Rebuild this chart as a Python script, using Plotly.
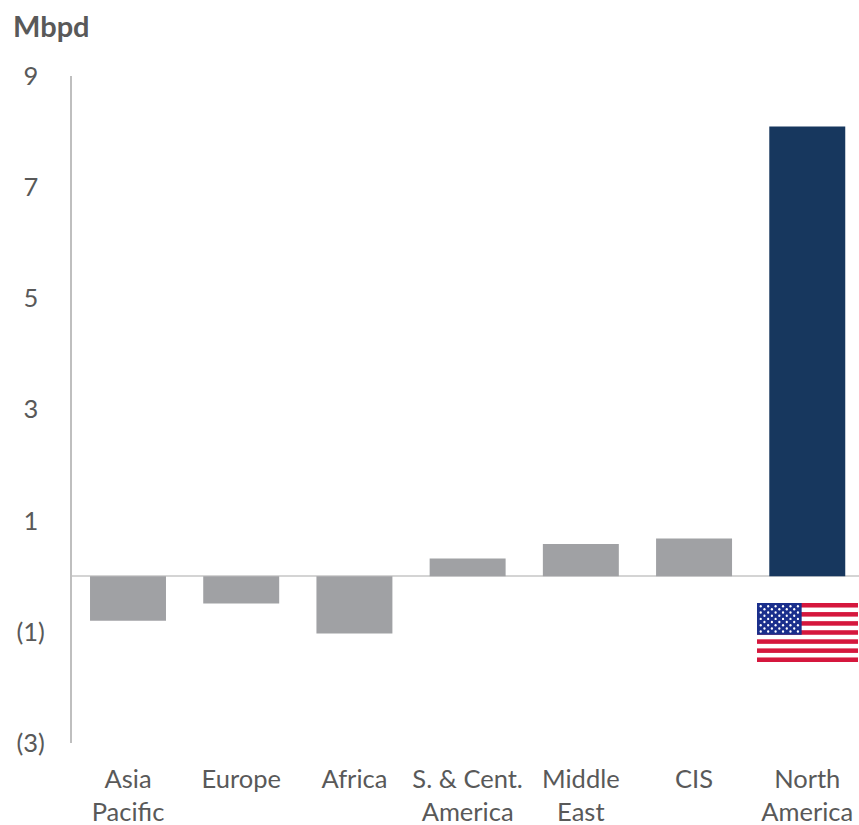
import base64
import plotly.graph_objects as go

categories = ["Asia<br>Pacific", "Europe", "Africa", "S. & Cent.<br>America", "Middle<br>East", "CIS", "North<br>America"]
values = [-0.8, -0.49, -1.03, 0.32, 0.58, 0.68, 8.09]
bar_colors = ["#A0A1A4"] * 6 + ["#17375E"]
y_ticks = [-3, -1, 1, 3, 5, 7, 9]
y_labels = ["(3)", "(1)", "1\u00a0", "3\u00a0", "5\u00a0", "7\u00a0", "9\u00a0"]

TEXT = "#595959"
FONT = "Lato, Carlito, 'Open Sans', sans-serif"


def flag_svg():
    w, h = 190, 100
    sh = h / 13
    parts = [f'<svg xmlns="http://www.w3.org/2000/svg" viewBox="0 0 {w} {h}" preserveAspectRatio="none">',
             f'<rect width="{w}" height="{h}" fill="#ffffff"/>']
    for i in range(0, 13, 2):
        parts.append(f'<rect y="{i * sh:.2f}" width="{w}" height="{sh:.2f}" fill="#D5173D"/>')
    cw, ch = 84, 7 * sh
    parts.append(f'<rect width="{cw}" height="{ch:.2f}" fill="#1A2F8C"/>')
    for r in range(9):
        n = 6 if r % 2 == 0 else 5
        off = 7 if r % 2 == 0 else 14
        for c in range(n):
            parts.append(f'<circle cx="{off + c * 14}" cy="{(r + 1) * ch / 10:.2f}" r="2.1" fill="#ffffff"/>')
    parts.append("</svg>")
    return "data:image/svg+xml;base64," + base64.b64encode("".join(parts).encode()).decode()


fig = go.Figure(go.Bar(x=categories, y=values, marker_color=bar_colors, marker_line_width=0, width=0.671))

W, H, L, R, T, B = 859, 825, 72, 0, 76, 82
fig.update_layout(
    width=W, height=H,
    margin=dict(l=L, r=R, t=T, b=B, pad=0),
    paper_bgcolor="white", plot_bgcolor="white",
    showlegend=False,
    font=dict(family=FONT, size=25.5, color=TEXT),
    xaxis=dict(type="category", showgrid=False, showline=False, ticks="", tickangle=0,
               ticklabelstandoff=18,
               tickfont=dict(size=25.5, color=TEXT), range=[-0.4947, 6.457]),
    yaxis=dict(range=[-3, 9], tickvals=y_ticks, ticktext=y_labels, showgrid=False,
               zeroline=True, zerolinecolor="#D4D4D4", zerolinewidth=2,
               showline=True, linecolor="#BFBFBF", linewidth=2, ticks="",
               ticklabelstandoff=20, tickfont=dict(size=25.5, color=TEXT)),
    annotations=[dict(text="<b>Mbpd</b>", xref="paper", yref="paper", x=-L / (W - L) + 11 / (W - L),
                      y=1 + (T - 26) / (H - T - B), xanchor="left", yanchor="middle", showarrow=False,
                      font=dict(size=29, color=TEXT, family=FONT))],
    images=[dict(source=flag_svg(), xref="paper", yref="paper",
                 x=(757 - L) / (W - L), y=1 - (603 - T) / (H - T - B),
                 sizex=101 / (W - L), sizey=59 / (H - T - B),
                 sizing="stretch", xanchor="left", yanchor="top", layer="above")],
)
fig.write_html("out.html", config={"displayModeBar": False}, post_script="document.body.style.margin='0';")
